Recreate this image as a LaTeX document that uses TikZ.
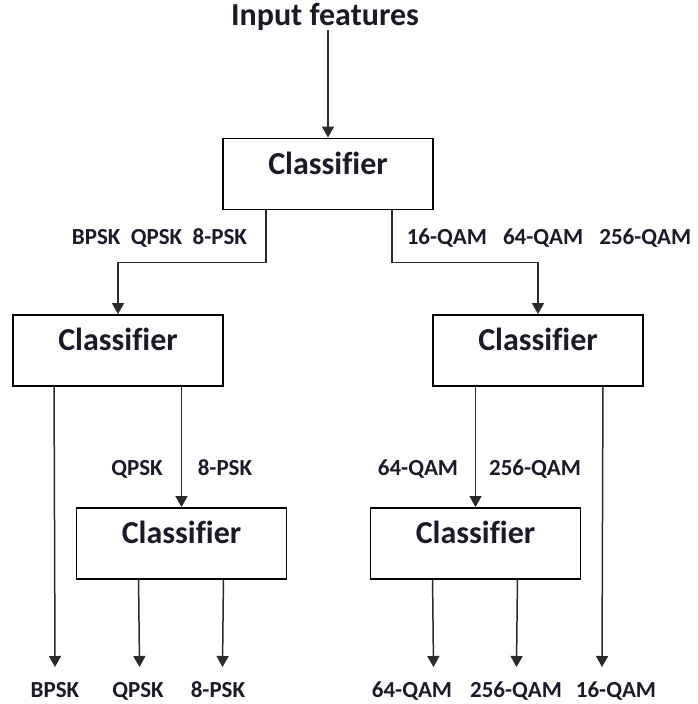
\documentclass[tikz,border=0pt]{standalone}
\usepackage{fontspec}
\setmainfont{Carlito}[Ligatures=NoCommon]
\usetikzlibrary{arrows.meta,calc}
\definecolor{ink}{HTML}{1A1A28}
\definecolor{wire}{HTML}{2A2A2A}
\begin{document}
\begin{tikzpicture}[x=1pt,y=-1pt,
  box/.style={draw=black,line width=1.9pt,rectangle,minimum width=210pt,minimum height=71pt,inner sep=0pt,
    font=\fontsize{32}{38}\selectfont\bfseries,text=ink,text height=22pt,text depth=22pt},
  lab/.style={font=\fontsize{23}{28}\selectfont\bfseries,text=ink,anchor=base,inner sep=0pt},
  ttl/.style={font=\fontsize{32}{38}\selectfont\bfseries,text=ink,anchor=base,inner sep=0pt},
  arr/.style={draw=wire,line width=1.5pt,-{Triangle[length=11pt,width=12pt]}}]
\useasboundingbox (0,0) rectangle (697,704);

% title and boxes
\node[ttl] (title) at (325,25) {Input features};
\node[box] (c1) at (328,174) {Classifier};
\node[box] (c2) at (118,350.5) {Classifier};
\node[box] (c3) at (538,350.5) {Classifier};
\node[box] (c4) at (181.5,543.5) {Classifier};
\node[box] (c5) at (475.5,543.5) {Classifier};

% labels on branches
\node[lab] (l1) at (159.5,244) {BPSK\hspace{0.45em}QPSK\hspace{0.45em}8-PSK};
\node[lab] (l2) at (549,244) {16-QAM\hspace{0.7em}64-QAM\hspace{0.7em}256-QAM};
\node[lab] (l3) at (137,475.5) {QPSK};
\node[lab] (l4) at (225,475.5) {8-PSK};
\node[lab] (l5) at (418,475.5) {64-QAM};
\node[lab] (l6) at (535,475.5) {256-QAM};

% outputs
\node[lab] (o1) at (55,697) {BPSK};
\node[lab] (o2) at (138,697) {QPSK};
\node[lab] (o3) at (218,697) {8-PSK};
\node[lab] (o4) at (412,697) {64-QAM};
\node[lab] (o5) at (516,697) {256-QAM};
\node[lab] (o6) at (616,697) {16-QAM};

% free ends of output arrows
\coordinate (e1) at (55,667);
\coordinate (e2) at (139.5,667);
\coordinate (e3) at (222.5,667);
\coordinate (e4) at (433.5,667);
\coordinate (e5) at (516.5,667);
\coordinate (e6) at (602,667);

% connectors
\draw[arr] (title.south -| c1.north) -- (c1.north);
\draw[arr] ($(c1.south west)+(44,0)$) -- ++(0,52) -| (c2.north);
\draw[arr] ($(c1.south east)+(-42,0)$) -- ++(0,52) -| (c3.north);
\draw[arr] ($(c2.south west)+(42,0)$) -- (e1);
\draw[arr] (c4.north |- c2.south) -- (c4.north);
\draw[arr] ($(c4.south west)+(63,0)$) -- (e2);
\draw[arr] ($(c4.south east)+(-64,0)$) -- (e3);
\draw[arr] (c5.north |- c3.south) -- (c5.north);
\draw[arr] ($(c3.south east)+(-41,0)$) -- (e6);
\draw[arr] ($(c5.south west)+(63,0)$) -- (e4);
\draw[arr] ($(c5.south east)+(-64,0)$) -- (e5);
\end{tikzpicture}
\end{document}
